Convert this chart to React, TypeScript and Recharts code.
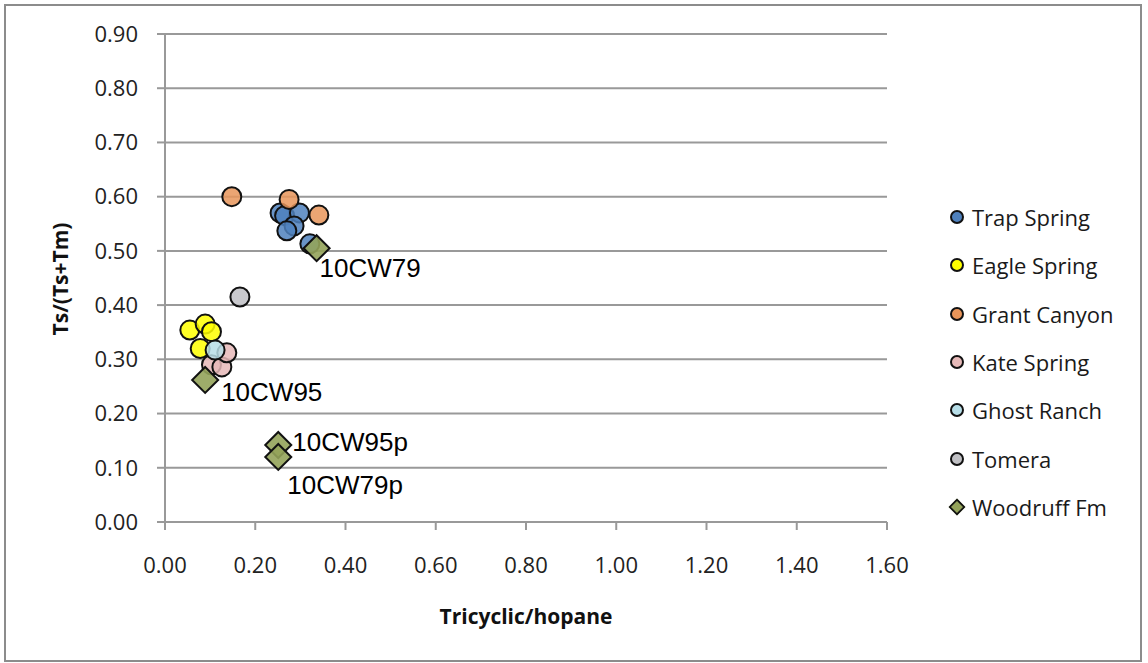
import { ScatterChart, Scatter, XAxis, YAxis, CartesianGrid, Legend, LabelList, Label } from 'recharts';

// Tricyclic/hopane vs Ts/(Ts+Tm) by oil family
const trapSpring = [
  { x: 0.255, y: 0.57 },
  { x: 0.265, y: 0.565 },
  { x: 0.298, y: 0.57 },
  { x: 0.286, y: 0.546 },
  { x: 0.27, y: 0.537 },
  { x: 0.321, y: 0.513 },
];
const eagleSpring = [
  { x: 0.055, y: 0.354 },
  { x: 0.089, y: 0.365 },
  { x: 0.078, y: 0.32 },
  { x: 0.103, y: 0.351 },
];
const grantCanyon = [
  { x: 0.148, y: 0.6 },
  { x: 0.275, y: 0.595 },
  { x: 0.341, y: 0.566 },
];
const kateSpring = [
  { x: 0.103, y: 0.29 },
  { x: 0.126, y: 0.286 },
  { x: 0.137, y: 0.312 },
];
const ghostRanch = [{ x: 0.111, y: 0.317 }];
const tomera = [{ x: 0.166, y: 0.415 }];
const woodruffFm = [
  { x: 0.336, y: 0.505, label: '10CW79' },
  { x: 0.089, y: 0.262, label: '10CW95' },
  { x: 0.251, y: 0.142, label: '10CW95p' },
  { x: 0.251, y: 0.12, label: '10CW79p' },
];

const xTicks = [0, 0.2, 0.4, 0.6, 0.8, 1.0, 1.2, 1.4, 1.6];
const yTicks = [0, 0.1, 0.2, 0.3, 0.4, 0.5, 0.6, 0.7, 0.8, 0.9];

// where each sample label sits relative to its marker
const labelOffset: Record<string, [number, number]> = {
  '10CW79': [3, 20],
  '10CW95': [16, 12],
  '10CW95p': [14, -3],
  '10CW79p': [9, 28],
};

const series = [
  { name: 'Trap Spring', data: trapSpring, fill: '#4f81bd', kind: 'circle' },
  { name: 'Eagle Spring', data: eagleSpring, fill: '#ffff00', kind: 'circle' },
  { name: 'Grant Canyon', data: grantCanyon, fill: '#e8955a', kind: 'circle' },
  { name: 'Kate Spring', data: kateSpring, fill: '#e6b9b8', kind: 'circle' },
  { name: 'Ghost Ranch', data: ghostRanch, fill: '#b7dee8', kind: 'circle' },
  { name: 'Tomera', data: tomera, fill: '#c0c0c4', kind: 'circle' },
  { name: 'Woodruff Fm', data: woodruffFm, fill: '#94a35a', kind: 'diamond' },
];

const gridColor = '#999';
const tickStyle = { fontFamily: 'Open Sans', fontSize: 22, fill: '#222' };

const makeShape = (fill: string, kind: string) => (props: any) => {
  const { cx, cy } = props;
  if (kind === 'diamond') {
    const r = 13;
    return (
      <polygon
        points={`${cx},${cy - r} ${cx + r},${cy} ${cx},${cy + r} ${cx - r},${cy}`}
        fill={fill}
        fillOpacity={0.9}
        stroke="#111"
        strokeWidth={2}
      />
    );
  }
  return <circle cx={cx} cy={cy} r={9.5} fill={fill} fillOpacity={0.85} stroke="#111" strokeWidth={2} />;
};

const renderSampleLabel = (props: any) => {
  const vb = props.viewBox ?? props;
  const cx = vb.x + (vb.width ?? 0) / 2;
  const cy = vb.y + (vb.height ?? 0) / 2;
  const [dx, dy] = labelOffset[props.value] ?? [12, 0];
  return (
    <text
      x={cx + dx}
      y={cy + dy}
      dominantBaseline="central"
      fontFamily="Liberation Sans"
      fontSize={26}
      fill="#000"
    >
      {props.value}
    </text>
  );
};

const renderLegend = () => (
  <div style={{ width: 200, fontFamily: 'Open Sans', fontSize: 22, color: '#1a1a1a' }}>
    {series.map((s) => (
      <div key={s.name} style={{ height: 48.3, display: 'flex', alignItems: 'center' }}>
        <span
          style={{
            width: 14,
            height: 14,
            boxSizing: 'border-box',
            border: '2px solid #111',
            background: s.fill,
            borderRadius: s.kind === 'circle' ? '50%' : 0,
            transform: s.kind === 'diamond' ? 'rotate(45deg) scale(0.85)' : undefined,
            marginRight: 8,
            flex: 'none',
          }}
        />
        <span>{s.name}</span>
      </div>
    ))}
  </div>
);

export default function App() {
  return (
    <div style={{ position: 'absolute', left: 0, top: 0, width: 1148, height: 663, background: '#fff' }}>
      <div
        style={{
          position: 'absolute',
          left: 4,
          top: 4,
          width: 1138,
          height: 658,
          boxSizing: 'border-box',
          border: '2px solid #8c8c8c',
        }}
      />
      <ScatterChart width={1148} height={663} margin={{ top: 34, right: 61, bottom: 81, left: 65 }}>
        <CartesianGrid vertical={false} stroke={gridColor} strokeWidth={2} />
        <XAxis
          type="number"
          dataKey="x"
          domain={[0, 1.6]}
          ticks={xTicks}
          interval={0}
          height={60}
          tickFormatter={(v: number) => v.toFixed(2)}
          tick={tickStyle}
          tickSize={8}
          tickMargin={27}
          stroke={gridColor}
          strokeWidth={2}
        >
          <Label
            value="Tricyclic/hopane"
            position="bottom"
            offset={27}
            style={{ fontFamily: 'Open Sans', fontSize: 21, fontWeight: 700, fill: '#111' }}
          />
        </XAxis>
        <YAxis
          type="number"
          dataKey="y"
          domain={[0, 0.9]}
          ticks={yTicks}
          interval={0}
          width={100}
          tickFormatter={(v: number) => v.toFixed(2)}
          tick={tickStyle}
          tickSize={8}
          tickMargin={19}
          stroke={gridColor}
          strokeWidth={2}
        >
          <Label
            content={() => (
              <text
                x={60}
                y={279}
                transform="rotate(-90 60 279)"
                textAnchor="middle"
                dominantBaseline="central"
                fontFamily="Open Sans"
                fontSize={21}
                fontWeight={700}
                fill="#111"
              >
                Ts/(Ts+Tm)
              </text>
            )}
          />
        </YAxis>
        <Legend
          layout="vertical"
          align="right"
          verticalAlign="middle"
          content={renderLegend}
          wrapperStyle={{ left: 950, top: 193, width: 200 }}
        />
        {series.map((s) => (
          <Scatter
            key={s.name}
            name={s.name}
            data={s.data}
            fill={s.fill}
            shape={makeShape(s.fill, s.kind)}
            isAnimationActive={false}
          >
            {s.kind === 'diamond' && <LabelList dataKey="label" content={renderSampleLabel} />}
          </Scatter>
        ))}
      </ScatterChart>
    </div>
  );
}
